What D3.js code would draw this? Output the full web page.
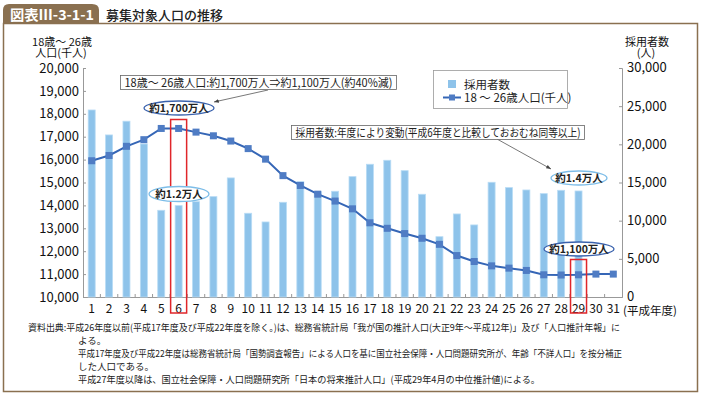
<!DOCTYPE html>
<html><head><meta charset="utf-8">
<script src="https://cdn.jsdelivr.net/npm/d3@7"></script>
<style>
body{margin:0;background:#fff;}
text{font-family:"Noto Sans CJK JP","Noto Sans",sans-serif;}
</style></head>
<body><svg id="c" width="701" height="394"></svg>
<script>
const years = d3.range(1, 32);
const population = [15950,16180,16580,16870,17360,17360,17200,17040,16810,16480,16020,15300,14870,14490,14190,13850,13240,13000,12770,12565,12300,11810,11550,11360,11260,11160,10970,10960,10970,11000,11000];
const recruits = [24500,21230,23030,20050,11360,11970,12490,13150,15600,10970,9830,12410,15110,13800,13850,15770,17390,17910,16550,13460,7900,10880,9440,15030,14330,14020,13540,13980,13890,null,null];
const leftTicks = [10000,11000,12000,13000,14000,15000,16000,17000,18000,19000,20000];
const rightTicks = [0,5000,10000,15000,20000,25000,30000];
const footnotes = [
 "資料出典:平成26年度以前(平成17年度及び平成22年度を除く。)は、総務省統計局「我が国の推計人口(大正9年～平成12年)」及び「人口推計年報」に",
 "よる。",
 "平成17年度及び平成22年度は総務省統計局「国勢調査報告」による人口を基に国立社会保障・人口問題研究所が、年齢「不詳人口」を按分補正",
 "した人口である。",
 "平成27年度以降は、国立社会保障・人口問題研究所「日本の将来推計人口」(平成29年4月の中位推計値)による。"
];

const svg = d3.select("#c");
const brown = "#8a7050";

// frame
svg.append("path").attr("d","M3.5,391.5 V23.5 H697.5 V391.5 Z").attr("fill","none").attr("stroke",brown).attr("stroke-width",1.5);
svg.append("path").attr("d","M3,24 V10 Q3,4 9,4 H92 Q99,4 99,10 V24 Z").attr("fill",brown);
svg.append("text").attr("x",10).attr("y",20).attr("fill","#fff").attr("font-size",14).attr("font-weight","bold").attr("textLength",84).attr("lengthAdjust","spacingAndGlyphs").text("図表Ⅲ-3-1-1");
svg.append("text").attr("x",106).attr("y",20).attr("fill","#222").attr("font-size",13).attr("font-weight","500").text("募集対象人口の推移");

const x = d3.scaleBand().domain(years).range([83,622]);
const yL = d3.scaleLinear().domain([10000,20000]).range([297,68]);
const yR = d3.scaleLinear().domain([0,30000]).range([297,68]);
const axisCol = "#999";

const gL = svg.append("g").attr("transform","translate(83,0)").call(d3.axisLeft(yL).tickValues(leftTicks).tickSize(-3).tickFormat(d3.format(",")));
const gR = svg.append("g").attr("transform","translate(622,0)").call(d3.axisRight(yR).tickValues(rightTicks).tickSize(-3).tickFormat(d3.format(",")));
const gB = svg.append("g").attr("transform","translate(0,297)").call(d3.axisBottom(x).tickSize(0).tickFormat(d=>d));
[gL,gR,gB].forEach(g=>{g.selectAll("path.domain").attr("stroke",axisCol);g.selectAll("line").attr("stroke",axisCol);g.selectAll("text").attr("fill","#111").attr("font-family",'"Noto Sans CJK JP",sans-serif');});
gL.selectAll("text").attr("font-size",13).attr("x",-4);
gR.selectAll("text").attr("font-size",13).attr("x",5).attr("dy","0.3em");
gB.selectAll("text").attr("font-size",12).attr("y",7);
svg.append("g").selectAll("line").data(years.slice(1)).join("line")
 .attr("x1",d=>x(d)).attr("x2",d=>x(d)).attr("y1",297).attr("y2",294).attr("stroke",axisCol);
svg.append("text").attr("x",623).attr("y",315).attr("font-size",11.5).attr("fill","#111").text("(平成年度)");

// axis titles (two-line labels)
function twoLine(cx, y0, l1, l2){
  const t = svg.append("text").attr("text-anchor","middle").attr("font-size",11).attr("fill","#111");
  t.append("tspan").attr("x",cx).attr("y",y0).text(l1);
  t.append("tspan").attr("x",cx-1).attr("y",y0+11.5).text(l2);
}
twoLine(62,45.5,"18歳～ 26歳","人口(千人)");
twoLine(647,45.5,"採用者数","(人)");

// bars
const bw = 7;
svg.append("g").selectAll("rect").data(years.filter((d,i)=>recruits[i]!=null)).join("rect")
 .attr("x",d=>x(d)+x.bandwidth()/2-bw/2).attr("width",bw)
 .attr("y",d=>yR(recruits[d-1])).attr("height",d=>297-yR(recruits[d-1]))
 .attr("fill","#8ec3ea").attr("stroke","#b9dcf5").attr("stroke-width",0.8);

// line
const lineCol="#3566b6";
svg.append("path").datum(years).attr("fill","none").attr("stroke",lineCol).attr("stroke-width",2)
 .attr("d",d3.line().x(d=>x(d)+x.bandwidth()/2).y(d=>yL(population[d-1])));
svg.append("g").selectAll("rect").data(years).join("rect")
 .attr("x",d=>x(d)+x.bandwidth()/2-3.5).attr("y",d=>yL(population[d-1])-3.5).attr("width",7).attr("height",7)
 .attr("fill","#4f7cc4");

// red boxes
function redBox(yr, top){
  const cx = x(yr)+x.bandwidth()/2;
  svg.append("rect").attr("x",cx-8).attr("y",top).attr("width",16).attr("height",313-top).attr("fill","none").attr("stroke","#e0262a").attr("stroke-width",1.5);
}
redBox(6,119.5);
redBox(29,259.5);

// ellipses
function ell(cx,cy,rx,ry,col,txt){
  svg.append("ellipse").attr("cx",cx).attr("cy",cy).attr("rx",rx).attr("ry",ry).attr("fill","#fff").attr("stroke",col).attr("stroke-width",1.3);
  svg.append("text").attr("x",cx).attr("y",cy+3.7).attr("text-anchor","middle").attr("font-size",10.5).attr("font-weight","bold").attr("fill","#222").text(txt);
}
ell(179,108,35,7,"#3a62ad","約1,700万人");
ell(179,194,30,7.5,"#7dbde8","約1.2万人");
ell(579,178,28,7,"#7dbde8","約1.4万人");
ell(579,249,35,7,"#3a62ad","約1,100万人");

// annotation boxes
function noteBox(x0,y0,w,h,txt){
  svg.append("rect").attr("x",x0).attr("y",y0).attr("width",w).attr("height",h).attr("fill","#fff").attr("stroke","#666").attr("stroke-width",0.8);
  svg.append("text").attr("x",x0+4).attr("y",y0+h/2+4).attr("font-size",11.5).attr("fill","#222").attr("textLength",w-8).attr("lengthAdjust","spacingAndGlyphs").text(txt);
}
svg.append("defs").append("marker").attr("id","ar").attr("viewBox","0 0 10 10").attr("refX",10).attr("refY",5).attr("markerWidth",6).attr("markerHeight",6).attr("orient","auto")
 .append("path").attr("d","M0,1 L10,5 L0,9 Z").attr("fill","#444");
svg.append("line").attr("x1",268).attr("y1",90).attr("x2",214).attr("y2",102).attr("stroke","#555").attr("stroke-width",0.8).attr("marker-end","url(#ar)");
svg.append("line").attr("x1",497).attr("y1",139).attr("x2",551).attr("y2",169).attr("stroke","#555").attr("stroke-width",0.8).attr("marker-end","url(#ar)");
noteBox(120.5,75.5,276,14,"18歳～ 26歳人口:約1,700万人⇒約1,100万人(約40%減)");
noteBox(291.5,125.5,293,14,"採用者数:年度により変動(平成6年度と比較しておおむね同等以上)");

// legend
svg.append("rect").attr("x",433.5).attr("y",70.5).attr("width",134).attr("height",38).attr("fill","#fff").attr("stroke","#999").attr("stroke-width",0.8);
svg.append("rect").attr("x",448).attr("y",80).attr("width",8).attr("height",8).attr("fill","#8ec3ea");
svg.append("text").attr("x",464).attr("y",88.5).attr("font-size",11.5).attr("fill","#222").text("採用者数");
svg.append("line").attr("x1",443).attr("x2",461).attr("y1",97.5).attr("y2",97.5).attr("stroke",lineCol).attr("stroke-width",2);
svg.append("rect").attr("x",449).attr("y",94.5).attr("width",6).attr("height",6).attr("fill","#4f7cc4");
svg.append("text").attr("x",464).attr("y",102).attr("font-size",11.5).attr("fill","#222").text("18 ～ 26歳人口(千人)");

// footnotes
const fx=[28,78,78,78,78], fy=[331,344,357,370,383];
const fw=[592,null,544,null,462];
footnotes.forEach((t,i)=>{
  const tt = svg.append("text").attr("x",fx[i]).attr("y",fy[i]).attr("font-size",9.5).attr("fill","#222").text(t);
  if(fw[i]) tt.attr("textLength",fw[i]).attr("lengthAdjust","spacingAndGlyphs");
});
</script></body></html>
